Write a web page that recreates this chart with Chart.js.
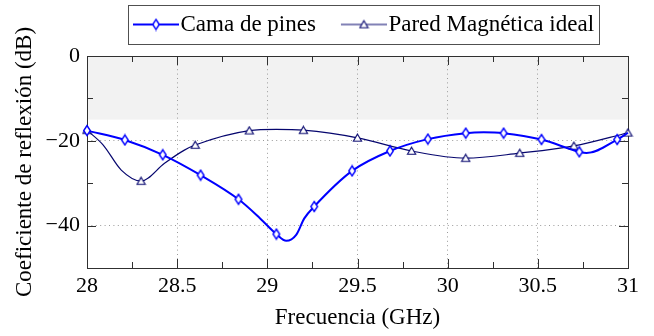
<!DOCTYPE html>
<html lang="es">
<head>
<meta charset="UTF-8">
<title>Coeficiente de reflexión</title>
<script src="https://cdn.jsdelivr.net/npm/chart.js@4.4.1/dist/chart.umd.min.js"></script>
<style>
    html, body { margin: 0; padding: 0; background: #ffffff; }
    #wrap { width: 654px; height: 336px; }
</style>
</head>
<body>
<div id="wrap"><canvas id="myChart"></canvas></div>
<script>
// Cama de pines: puntos de la curva (GHz, dB)
var camaFreq = [28.00, 28.21, 28.42, 28.63, 28.84, 28.96, 29.05, 29.105, 29.16, 29.205, 29.26, 29.47, 29.68, 29.89, 30.10, 30.20, 30.31, 30.52, 30.73, 30.77, 30.94, 31.00]
var camaDb   = [-17.6, -19.8, -23.3, -28.1, -33.8, -38.3, -42.0, -43.6, -42.2, -38.3, -35.5, -27.1, -22.4, -19.6, -18.2, -18.0, -18.2, -19.7, -22.6, -22.9, -19.7, -18.1]
// frecuencias donde hay marcador (rombo)
var camaMarks = [28.00, 28.21, 28.42, 28.63, 28.84, 29.05, 29.26, 29.47, 29.68, 29.89, 30.10, 30.31, 30.52, 30.73, 30.94]

// Pared Magnética ideal
var paredFreq = [28.00, 28.09, 28.19, 28.30, 28.43, 28.54, 28.60, 28.90, 29.05, 29.20, 29.50, 29.80, 30.10, 30.40, 30.70, 31.00]
var paredDb   = [-17.5, -21.0, -26.9, -29.5, -25.3, -22.2, -21.0, -17.6, -17.3, -17.5, -19.3, -22.4, -24.1, -22.9, -21.2, -18.1]
var paredMarks = [28.00, 28.30, 28.60, 28.90, 29.20, 29.50, 29.80, 30.10, 30.40, 30.70, 31.00]

var xMin = 28, xMax = 31
var yMin = -50, yMax = 0
var bandTop = 0, bandBottom = -15

var camaColor = '#0000ff'
var paredColor = '#06066e'
var serif = "'Liberation Serif', 'Times New Roman', serif"

function toPoints(xs, ys) {
    return xs.map(function (x, i) { return { x: x, y: ys[i] } })
}
function isMark(list, x) {
    return list.some(function (m) { return Math.abs(m - x) < 1e-6 })
}

// marcadores como imagen (rombo alargado)
function diamondImg(color) {
    var c = document.createElement('canvas')
    c.width = 10; c.height = 13
    var g = c.getContext('2d')
    g.beginPath()
    g.moveTo(5, 1.5); g.lineTo(8.3, 6.5); g.lineTo(5, 11.5); g.lineTo(1.7, 6.5); g.closePath()
    g.fillStyle = '#ffffff'; g.fill()
    g.lineWidth = 1.4; g.strokeStyle = color; g.stroke()
    return c
}
function triangleImg(color) {
    var c = document.createElement('canvas')
    c.width = 11; c.height = 10
    var g = c.getContext('2d')
    g.beginPath()
    g.moveTo(5.5, 1.2); g.lineTo(9.6, 8.2); g.lineTo(1.4, 8.2); g.closePath()
    g.fillStyle = '#ffffff'; g.fill()
    g.lineWidth = 1.1; g.strokeStyle = color; g.stroke()
    return c
}
// muestra de leyenda: linea + marcador
function legendImg(color, width, marker) {
    var c = document.createElement('canvas')
    c.width = 68; c.height = 14
    var g = c.getContext('2d')
    g.beginPath(); g.moveTo(22, 7); g.lineTo(68, 7)
    g.lineWidth = width; g.strokeStyle = color; g.stroke()
    g.drawImage(marker, 45 - marker.width / 2, 7 - marker.height / 2)
    return c
}

var diamond = diamondImg(camaColor)
var triangle = triangleImg(paredColor)
var legendCama = legendImg(camaColor, 2, diamond)
var legendPared = legendImg(paredColor, 1.2, triangle)

var bandPlugin = {
    id: 'band',
    beforeDraw: function (chart) {
        var a = chart.chartArea, ys = chart.scales.y, ctx = chart.ctx
        var y1 = ys.getPixelForValue(bandTop), y2 = ys.getPixelForValue(bandBottom)
        ctx.save()
        ctx.fillStyle = '#f2f2f2'
        ctx.fillRect(a.left, y1, a.right - a.left, y2 - y1)
        ctx.restore()
    }
}

// marco y marcas hacia dentro, como pgfplots
var framePlugin = {
    id: 'frame',
    beforeDatasetsDraw: function (chart) {
        var a = chart.chartArea, ctx = chart.ctx
        var xs = chart.scales.x, ys = chart.scales.y
        ctx.save()
        ctx.strokeStyle = '#303030'
        ctx.lineWidth = 1
        ctx.beginPath()
        xs.ticks.forEach(function (t) {
            if (t.value <= xMin || t.value >= xMax) return
            var px = Math.round(xs.getPixelForValue(t.value)) + 0.5
            var len = Number.isInteger(t.value * 2) ? 9 : 6
            ctx.moveTo(px, a.bottom); ctx.lineTo(px, a.bottom - len)
            ctx.moveTo(px, a.top); ctx.lineTo(px, a.top + len)
        })
        ys.ticks.forEach(function (t) {
            if (t.value <= yMin || t.value >= yMax) return
            var py = Math.round(ys.getPixelForValue(t.value)) + 0.5
            var len = t.value % 20 === 0 ? 9 : 6
            ctx.moveTo(a.left, py); ctx.lineTo(a.left + len, py)
            ctx.moveTo(a.right, py); ctx.lineTo(a.right - len, py)
        })
        ctx.stroke()
        ctx.strokeRect(Math.round(a.left) + 0.5, Math.round(a.top) + 0.5, Math.round(a.right - a.left), Math.round(a.bottom - a.top))
        ctx.restore()
    },
    afterDraw: function (chart) {
        var hb = chart.legend.legendHitBoxes
        if (!hb || hb.length < 2) return
        var ctx = chart.ctx
        var left = hb[0].left + 12 - 5
        var right = hb[1].left + hb[1].width + 5
        var cy = hb[0].top + hb[0].height / 2
        ctx.save()
        ctx.strokeStyle = '#505050'
        ctx.lineWidth = 1
        ctx.strokeRect(Math.round(left) + 0.5, Math.round(cy - 19.5) + 0.5, Math.round(right - left), 39)
        ctx.restore()
    }
}

var ctx = document.getElementById('myChart').getContext('2d')
var myChart = new Chart(ctx, {
    type: 'scatter',
    data: {
        datasets: [
            {
                label: 'Cama de pines',
                data: toPoints(camaFreq, camaDb),
                showLine: true,
                borderColor: camaColor,
                backgroundColor: camaColor,
                borderWidth: 2,
                cubicInterpolationMode: 'monotone',
                pointStyle: diamond,
                pointRadius: function (c) { return c.raw && isMark(camaMarks, c.raw.x) ? 4 : 0 },
                pointHoverRadius: 0,
                clip: false,
                order: 1
            },
            {
                label: 'Pared Magnética ideal',
                data: toPoints(paredFreq, paredDb),
                showLine: true,
                borderColor: paredColor,
                backgroundColor: paredColor,
                borderWidth: 1.2,
                cubicInterpolationMode: 'monotone',
                pointStyle: triangle,
                pointRadius: function (c) { return c.raw && isMark(paredMarks, c.raw.x) ? 4 : 0 },
                pointHoverRadius: 0,
                clip: false,
                order: 2
            }
        ]
    },
    options: {
        responsive: true,
        maintainAspectRatio: false,
        animation: false,
        events: [],
        layout: { padding: { left: 0, right: 26, top: 0, bottom: 0 } },
        plugins: {
            tooltip: { enabled: false },
            legend: {
                display: true,
                position: 'top',
                fullSize: false,
                weight: 1000,
                labels: {
                    usePointStyle: true,
                    pointStyleWidth: 48,
                    padding: 13,
                    color: '#000000',
                    font: { family: serif, size: 23 },
                    generateLabels: function (chart) {
                        return [
                            { text: 'Cama de pines', pointStyle: legendCama, datasetIndex: 0, lineWidth: 0, fontColor: '#000000' },
                            { text: 'Pared Magnética ideal', pointStyle: legendPared, datasetIndex: 1, lineWidth: 0, fontColor: '#000000' }
                        ]
                    }
                }
            },
            subtitle: {
                display: true,
                text: '',
                position: 'top',
                weight: 500,
                font: { size: 1, lineHeight: 1 },
                padding: { top: 4.5, bottom: 4.5 }
            }
        },
        scales: {
            x: {
                type: 'linear',
                min: xMin,
                max: xMax,
                afterFit: function (s) { s.height = 68 },
                border: {
                    display: false,
                    dash: function (c) { return [1, 3.4] }
                },
                grid: {
                    drawTicks: false,
                    lineWidth: 1,
                    color: function (c) {
                        var v = c.tick ? c.tick.value : 0
                        return (Number.isInteger(v * 2) && v > xMin && v < xMax) ? '#9a9a9a' : 'rgba(0,0,0,0)'
                    }
                },
                ticks: {
                    stepSize: 0.25,
                    autoSkip: false,
                    maxRotation: 0,
                    padding: 5,
                    color: '#000000',
                    font: { family: serif, size: 22 },
                    callback: function (v) { return Number.isInteger(v * 2) ? String(v) : '' }
                },
                title: {
                    display: true,
                    text: 'Frecuencia (GHz)',
                    color: '#000000',
                    font: { family: serif, size: 23 },
                    padding: { top: 0, bottom: 4 }
                }
            },
            y: {
                type: 'linear',
                min: yMin,
                max: yMax,
                afterFit: function (s) { s.width = 87 },
                border: {
                    display: false,
                    dash: function (c) { return [1, 3.4] }
                },
                grid: {
                    drawTicks: false,
                    lineWidth: 1,
                    color: function (c) {
                        var v = c.tick ? c.tick.value : 0
                        return (v % 20 === 0 && v > yMin && v < yMax) ? '#9a9a9a' : 'rgba(0,0,0,0)'
                    }
                },
                ticks: {
                    stepSize: 10,
                    padding: 7,
                    color: '#000000',
                    font: { family: serif, size: 22 },
                    callback: function (v) {
                        if (v % 20 !== 0) return ''
                        return v < 0 ? '\u2212' + Math.abs(v) : String(v)
                    }
                },
                title: {
                    display: true,
                    text: 'Coeficiente de reflexión (dB)',
                    color: '#000000',
                    font: { family: serif, size: 23 },
                    padding: { top: 11, bottom: 0 }
                }
            }
        }
    },
    plugins: [bandPlugin, framePlugin]
})
</script>
</body>
</html>
